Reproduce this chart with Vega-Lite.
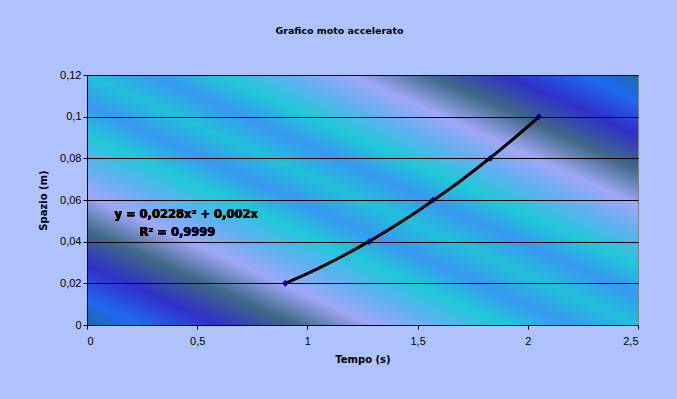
{
  "$schema": "https://vega.github.io/schema/vega-lite/v6.json",
  "autosize": "none",
  "width": 551,
  "height": 250,
  "padding": {"left": 87, "top": 75, "right": 39, "bottom": 74},
  "background": "#b0c2fb",
  "title": {
    "text": "Grafico moto accelerato",
    "font": "DejaVu Sans",
    "fontSize": 9.5,
    "fontWeight": "bold",
    "color": "#000000",
    "anchor": "middle",
    "offset": 34,
    "dx": -23
  },
  "config": {
    "view": {"stroke": "#808080", "strokeWidth": 1},
    "axis": {
      "labelFont": "Liberation Sans",
      "labelFontSize": 11,
      "labelColor": "#000000",
      "titleFont": "DejaVu Sans",
      "titleFontSize": 10,
      "titleFontWeight": "bold",
      "titleColor": "#000000",
      "domainColor": "#000000",
      "tickColor": "#000000",
      "tickSize": 4,
      "gridColor": "#000000",
      "gridOpacity": 1,
      "gridWidth": 1
    }
  },
  "data": {
    "values": [
      {"t": 0.9, "s": 0.02},
      {"t": 1.28, "s": 0.04},
      {"t": 1.57, "s": 0.06},
      {"t": 1.83, "s": 0.08},
      {"t": 2.05, "s": 0.1}
    ]
  },
  "layer": [
    {
      "mark": {
        "type": "rect",
        "color": {
          "gradient": "linear",
          "x1": 0, "y1": 1, "x2": 1, "y2": 0,
          "stops": [
            {"offset": 0, "color": "#1a6aa8"},
            {"offset": 0.05, "color": "#2068f0"},
            {"offset": 0.12, "color": "#3030c8"},
            {"offset": 0.19, "color": "#406888"},
            {"offset": 0.26, "color": "#a0a8f8"},
            {"offset": 0.32, "color": "#60b0f0"},
            {"offset": 0.38, "color": "#20c8d8"},
            {"offset": 0.44, "color": "#3898f0"},
            {"offset": 0.5, "color": "#22c0da"},
            {"offset": 0.56, "color": "#3898f0"},
            {"offset": 0.62, "color": "#20c8d8"},
            {"offset": 0.68, "color": "#60b0f0"},
            {"offset": 0.74, "color": "#a0a8f8"},
            {"offset": 0.81, "color": "#406888"},
            {"offset": 0.88, "color": "#3030c8"},
            {"offset": 0.95, "color": "#2068f0"},
            {"offset": 1, "color": "#1a6aa8"}
          ]
        }
      },
      "encoding": {
        "x": {"datum": 0, "type": "quantitative", "scale": {"domain": [0, 2.5], "nice": false}, "axis": {
            "title": "Tempo (s)",
            "values": [0, 0.5, 1, 1.5, 2, 2.5],
            "labelExpr": "replace(format(datum.value, '.1~f'), '.', ',')",
            "grid": false,
            "labelPadding": 6,
            "titlePadding": 8,
            "zindex": 1
          }},
        "x2": {"datum": 2.5},
        "y": {"datum": 0, "type": "quantitative", "scale": {"domain": [0, 0.12], "nice": false}, "axis": {
            "title": "Spazio (m)",
            "values": [0, 0.02, 0.04, 0.06, 0.08, 0.1, 0.12],
            "labelExpr": "replace(format(datum.value, '.2~f'), '.', ',')",
            "grid": true,
            "labelPadding": 2,
            "titlePadding": 11,
            "zindex": 1
          }},
        "y2": {"datum": 0.12}
      }
    },
    {
      "transform": [{"regression": "s", "on": "t", "method": "poly", "order": 2}],
      "mark": {"type": "line", "color": "#000000", "strokeWidth": 3},
      "encoding": {
        "x": {"field": "t", "type": "quantitative"},
        "y": {"field": "s", "type": "quantitative"}
      }
    },
    {
      "mark": {"type": "point", "shape": "diamond", "filled": true, "size": 45, "color": "#000090", "opacity": 1, "zindex": 2},
      "encoding": {
        "x": {"field": "t", "type": "quantitative"},
        "y": {"field": "s", "type": "quantitative"}
      }
    },
    {
      "mark": {"type": "text", "font": "DejaVu Sans", "fontSize": 11.5, "fontWeight": "bold", "color": "#000000", "align": "center", "baseline": "middle"},
      "encoding": {
        "x": {"datum": 0.45, "type": "quantitative"},
        "y": {"datum": 0.0528, "type": "quantitative"},
        "text": {"value": "y = 0,0228x² + 0,002x"}
      }
    },
    {
      "mark": {"type": "text", "font": "DejaVu Sans", "fontSize": 11.5, "fontWeight": "bold", "color": "#000000", "align": "center", "baseline": "middle"},
      "encoding": {
        "x": {"datum": 0.41, "type": "quantitative"},
        "y": {"datum": 0.0442, "type": "quantitative"},
        "text": {"value": "R² = 0,9999"}
      }
    }
  ]
}
